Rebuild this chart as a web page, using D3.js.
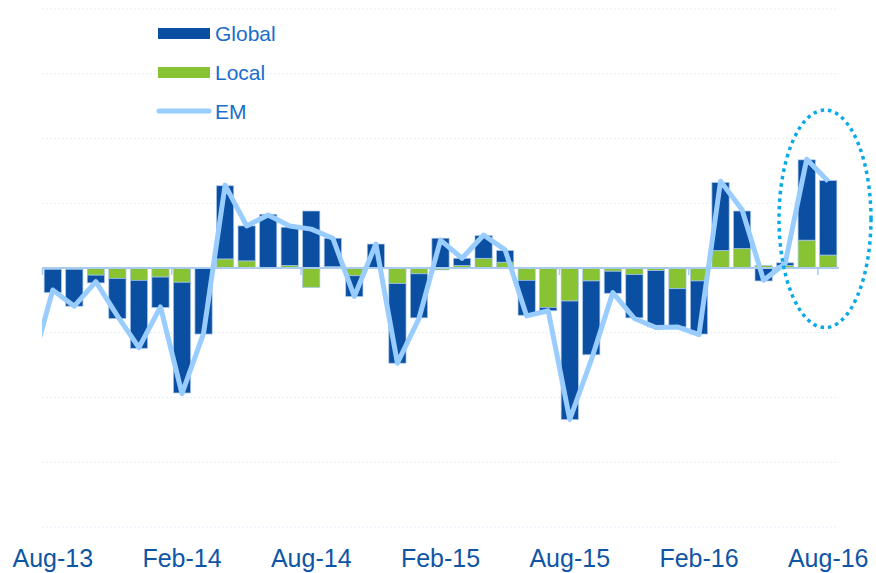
<!DOCTYPE html>
<html>
<head>
<meta charset="utf-8">
<script src="https://cdn.jsdelivr.net/npm/d3@7"></script>
<style>
  html, body { margin: 0; padding: 0; background: #ffffff; }
  svg { display: block; font-family: "Liberation Sans", Arial, sans-serif; }
</style>
</head>
<body>
<svg id="chart" width="876" height="573"></svg>
<script>
// ---- data ----
const months = ["Aug-13","Sep-13","Oct-13","Nov-13","Dec-13","Jan-14","Feb-14","Mar-14","Apr-14","May-14","Jun-14","Jul-14",
  "Aug-14","Sep-14","Oct-14","Nov-14","Dec-14","Jan-15","Feb-15","Mar-15","Apr-15","May-15","Jun-15","Jul-15",
  "Aug-15","Sep-15","Oct-15","Nov-15","Dec-15","Jan-16","Feb-16","Mar-16","Apr-16","May-16","Jun-16","Jul-16","Aug-16"];
const globalVals = [-0.36,-0.57,-0.12,-0.62,-1.05,-0.47,-1.71,-1.02,1.13,0.54,0.82,0.59,
  0.88,0.44,-0.32,0.37,-1.23,-0.68,0.46,0.11,0.35,0.18,-0.54,-0.05,
  -1.83,-1.14,-0.34,-0.67,-0.87,-0.59,-0.82,1.05,0.58,-0.20,0.04,1.24,1.15];
const localVals = [-0.02,-0.02,-0.11,-0.16,-0.19,-0.14,-0.22,0.00,0.14,0.11,0.01,0.04,
  -0.30,0.02,-0.12,0.00,-0.24,-0.09,-0.03,0.04,0.15,0.09,-0.19,-0.61,
  -0.51,-0.20,-0.05,-0.10,-0.04,-0.32,-0.20,0.27,0.30,0.04,0.04,0.43,0.20];
// EM series starts one month earlier (Jul-13), clipped at the plot edge
const emMonths = ["Jul-13"].concat(months);
const emVals = [-1.55,-0.34,-0.59,-0.21,-0.74,-1.23,-0.60,-1.94,-1.01,1.28,0.65,0.82,0.65,
  0.60,0.46,-0.44,0.37,-1.47,-0.78,0.43,0.15,0.51,0.28,-0.74,-0.66,
  -2.34,-1.42,-0.38,-0.78,-0.92,-0.91,-1.03,1.34,0.90,-0.19,0.07,1.68,1.34];
const tickLabels = ["Aug-13","Feb-14","Aug-14","Feb-15","Aug-15","Feb-16","Aug-16"];
const gridValues = [-4,-3,-2,-1,1,2,3,4];
const seriesNames = ["Global","Local","EM"];

// ---- styles ----
const C_GLOBAL = "#0B4FA3", C_LOCAL = "#87C332", C_EM = "#99CCFF";
const C_AXIS = "#A8CBEE", C_GRID = "#E4EFF9";

const svg = d3.select("#chart");
const left = 42, right = 839;

const x = d3.scaleBand().domain(months).range([left, right]).paddingInner(0.2).paddingOuter(0.1);
const xi = d3.scaleLinear().domain([-0.5, months.length - 0.5]).range([left, right]);
const y = d3.scaleLinear().domain([-4, 4]).range([527, 9]);

// gridlines
svg.append("g").selectAll("line").data(gridValues).join("line")
  .attr("x1", left).attr("x2", right)
  .attr("y1", d => y(d)).attr("y2", d => y(d))
  .attr("stroke", C_GRID).attr("stroke-width", 1).attr("stroke-dasharray", "2,2");

// stacked bars
const rows = months.map((m, i) => ({ month: m, local: localVals[i], global: globalVals[i] }));
const stack = d3.stack().keys(["local", "global"]).offset(d3.stackOffsetDiverging);
const layers = stack(rows);
const colorOf = { local: C_LOCAL, global: C_GLOBAL };

svg.append("g").selectAll("g").data(layers).join("g")
  .attr("fill", d => colorOf[d.key])
  .selectAll("rect").data(d => d).join("rect")
  .attr("x", d => x(d.data.month))
  .attr("width", x.bandwidth())
  .attr("y", d => y(Math.max(d[0], d[1])))
  .attr("height", d => Math.abs(y(d[0]) - y(d[1])))
  .attr("stroke", "#A9C7EA").attr("stroke-width", 0.7);

// zero axis with tick marks every 6 months at band boundaries
const zeroAxis = d3.axisBottom(xi)
  .tickValues(d3.range(-0.5, months.length, 6))
  .tickSize(7).tickFormat("");
const za = svg.append("g").attr("transform", `translate(0,${y(0)})`).call(zeroAxis);
za.select(".domain").attr("stroke", C_AXIS).attr("stroke-width", 2).attr("d", `M${left},0H${right}`);
za.selectAll(".tick line").attr("stroke", C_AXIS).attr("stroke-width", 1.5);

// EM line (clipped at the plot's left edge)
svg.append("clipPath").attr("id", "plotclip")
  .append("rect").attr("x", left).attr("y", 0).attr("width", 876 - left).attr("height", 573);
const line = d3.line().x((d, i) => xi(i - 1)).y(d => y(d));
svg.append("path").datum(emVals)
  .attr("clip-path", "url(#plotclip)")
  .attr("d", line)
  .attr("fill", "none").attr("stroke", C_EM).attr("stroke-width", 5)
  .attr("stroke-linejoin", "round");

// x labels
svg.append("g").selectAll("text").data(tickLabels).join("text")
  .attr("x", d => x(d) + x.bandwidth() / 2)
  .attr("y", 567)
  .attr("text-anchor", "middle")
  .attr("font-size", 25)
  .attr("fill", "#0F55A6")
  .text(d => d);

// dotted ellipse annotation
svg.append("ellipse")
  .attr("cx", xi(35.85)).attr("cy", y(0.76))
  .attr("rx", 46).attr("ry", y(0) - y(1.68))
  .attr("fill", "none").attr("stroke", "#0AAAE8").attr("stroke-width", 3.5)
  .attr("stroke-dasharray", "3.5,4");

// legend
const lg = svg.append("g");
const legY = [33.5, 72.5, 111];
seriesNames.forEach((name, i) => {
  if (name === "EM") {
    lg.append("line").attr("x1", 159).attr("x2", 209).attr("y1", legY[i]).attr("y2", legY[i])
      .attr("stroke", C_EM).attr("stroke-width", 5).attr("stroke-linecap", "round");
  } else {
    lg.append("rect").attr("x", 158).attr("y", legY[i] - 5.5).attr("width", 52).attr("height", 11)
      .attr("fill", name === "Global" ? C_GLOBAL : C_LOCAL);
  }
  lg.append("text").attr("x", 215).attr("y", legY[i] + 7.5)
    .attr("font-size", 21).attr("fill", "#1A6DCC").text(name);
});
</script>
</body>
</html>
